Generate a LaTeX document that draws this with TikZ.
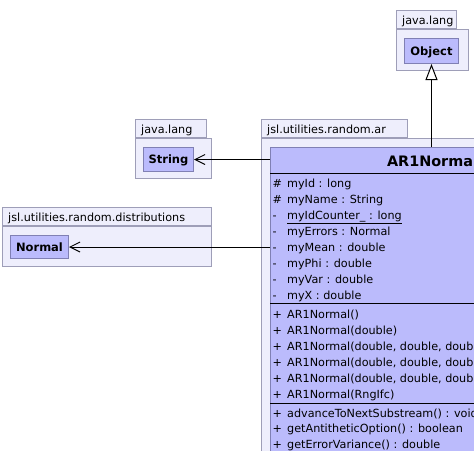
\documentclass[tikz,border=0pt]{standalone}
\usepackage{fontspec}
\setmainfont{DejaVu Sans}
\usepackage{tikz}
\usetikzlibrary{positioning}
\usetikzlibrary{arrows.meta}

\definecolor{pkgfill}{RGB}{238,238,252}
\definecolor{pkgline}{RGB}{158,158,184}
\definecolor{clsfill}{RGB}{187,187,252}
\definecolor{clsline}{RGB}{128,128,180}

\tikzset{
  pkgbody/.style={draw=pkgline, fill=pkgfill, inner sep=0pt, line width=1pt},
  pkgtab/.style={draw=pkgline, fill=pkgfill, inner sep=0pt, minimum height=18pt, line width=1pt},
  pkgname/.style={inner sep=0pt, text depth=0pt, font=\fontsize{11.2}{13}\selectfont},
  clsbox/.style={draw=clsline, fill=clsfill, inner sep=0pt, line width=1pt, text height=8.5pt, text depth=0pt, font=\fontsize{11.5}{13}\selectfont\bfseries},
  clstitle/.style={anchor=base, inner sep=0pt, font=\fontsize{14.4}{16}\selectfont\bfseries},
  member/.style={anchor=base west, inner sep=0pt, font=\fontsize{11.2}{13}\selectfont},
  sepline/.style={draw=black, line width=1pt},
  uses/.style={-{Straight Barb[length=10pt, width=10pt]}, line width=1pt},
  extends/.style={-{Triangle[open, length=16pt, width=12pt, fill=white]}, line width=1pt}
}

\begin{document}
\begin{tikzpicture}[x=1pt, y=-1pt]
    \useasboundingbox (0,0) rectangle (474,450);
    \clip (0,0) rectangle (474,450);
    \fill[white] (0,0) rectangle (474,450);

    % java.lang (Object)
    \node [pkgbody, anchor=north west, minimum width=72pt, minimum height=41pt] (objbody) at (396,29) {};
    \node [pkgtab, above right=0pt and 0pt of objbody.north west, minimum width=60pt] (objtab) {};
    \node [pkgname, above right=4pt and 6pt of objtab.south west] (objpkg) {java.lang};
    \node [clsbox, below right=9pt and 8pt of objbody.north west, minimum width=54pt, minimum height=25pt] (objcls) {Object};

    % java.lang (String)
    \node [pkgbody, anchor=north west, minimum width=76pt, minimum height=40pt] (strbody) at (135,138) {};
    \node [pkgtab, above right=0pt and 0pt of strbody.north west, minimum width=71pt] (strtab) {};
    \node [pkgname, above right=4pt and 6pt of strtab.south west] (strpkg) {java.lang};
    \node [clsbox, below right=9pt and 8pt of strbody.north west, minimum width=50pt, minimum height=24pt] (strcls) {String};

    % jsl.utilities.random.distributions
    \node [pkgbody, anchor=north west, minimum width=209pt, minimum height=40pt] (nrmbody) at (2,226) {};
    \node [pkgtab, above right=0pt and 0pt of nrmbody.north west, minimum width=209pt] (nrmtab) {};
    \node [pkgname, above right=4pt and 6pt of nrmtab.south west] (nrmpkg) {jsl.utilities.random.distributions};
    \node [clsbox, below right=9pt and 8pt of nrmbody.north west, minimum width=58pt, minimum height=23pt] (nrmcls) {Normal};

    % jsl.utilities.random.ar
    \node [pkgbody, anchor=north west, minimum width=380pt, minimum height=340pt] (arbody) at (261,138) {};
    \node [pkgtab, above right=0pt and 0pt of arbody.north west, minimum width=146pt] (artab) {};
    \node [pkgname, above right=4pt and 6pt of artab.south west] (arpkg) {jsl.utilities.random.ar};
    \node [clsbox, below right=9pt and 9pt of arbody.north west, minimum width=324pt, minimum height=323pt] (ar1) {};
    \node [clstitle] (ar1name) at ([yshift=-19pt]ar1.north) {AR1Normal};

    \draw [sepline] ([yshift=-26pt]ar1.north west) -- ([yshift=-26pt]ar1.north east);
    \draw [sepline] ([yshift=-156pt]ar1.north west) -- ([yshift=-156pt]ar1.north east);
    \draw [sepline] ([yshift=-256pt]ar1.north west) -- ([yshift=-256pt]ar1.north east);

    % fields
    \foreach \y/\v/\m [count=\i] in {187/\#/myId : long, 203/\#/myName : String,
        219/-/\underline{myIdCounter\_ : long}, 235/-/myErrors : Normal,
        251/-/myMean : double, 267/-/myPhi : double, 283/-/myVar : double,
        299/-/myX : double} {
        \node [member] (fvis\i) at (272.5,\y) {\v};
        \node [member] (fname\i) at (287,\y) {\m};
    }

    % methods
    \foreach \y/\m [count=\i] in {318/{AR1Normal()}, 334/{AR1Normal(double)},
        350/{AR1Normal(double, double, double)},
        366/{AR1Normal(double, double, double, RngIfc)},
        382/{AR1Normal(double, double, double, double, RngIfc)},
        398/{AR1Normal(RngIfc)},
        417/{advanceToNextSubstream() : void},
        432.5/{getAntitheticOption() : boolean},
        448/{getErrorVariance() : double}} {
        \node [member] (mvis\i) at (272.5,\y) {+};
        \node [member] (mname\i) at (287,\y) {\m};
    }

    % relations
    \draw [extends] (ar1.north -| objcls.south) -- (objcls.south);
    \draw [uses] (strcls.east -| ar1.west) -- (strcls.east);
    \draw [uses] (nrmcls.east -| ar1.west) -- (nrmcls.east);
\end{tikzpicture}
\end{document}
